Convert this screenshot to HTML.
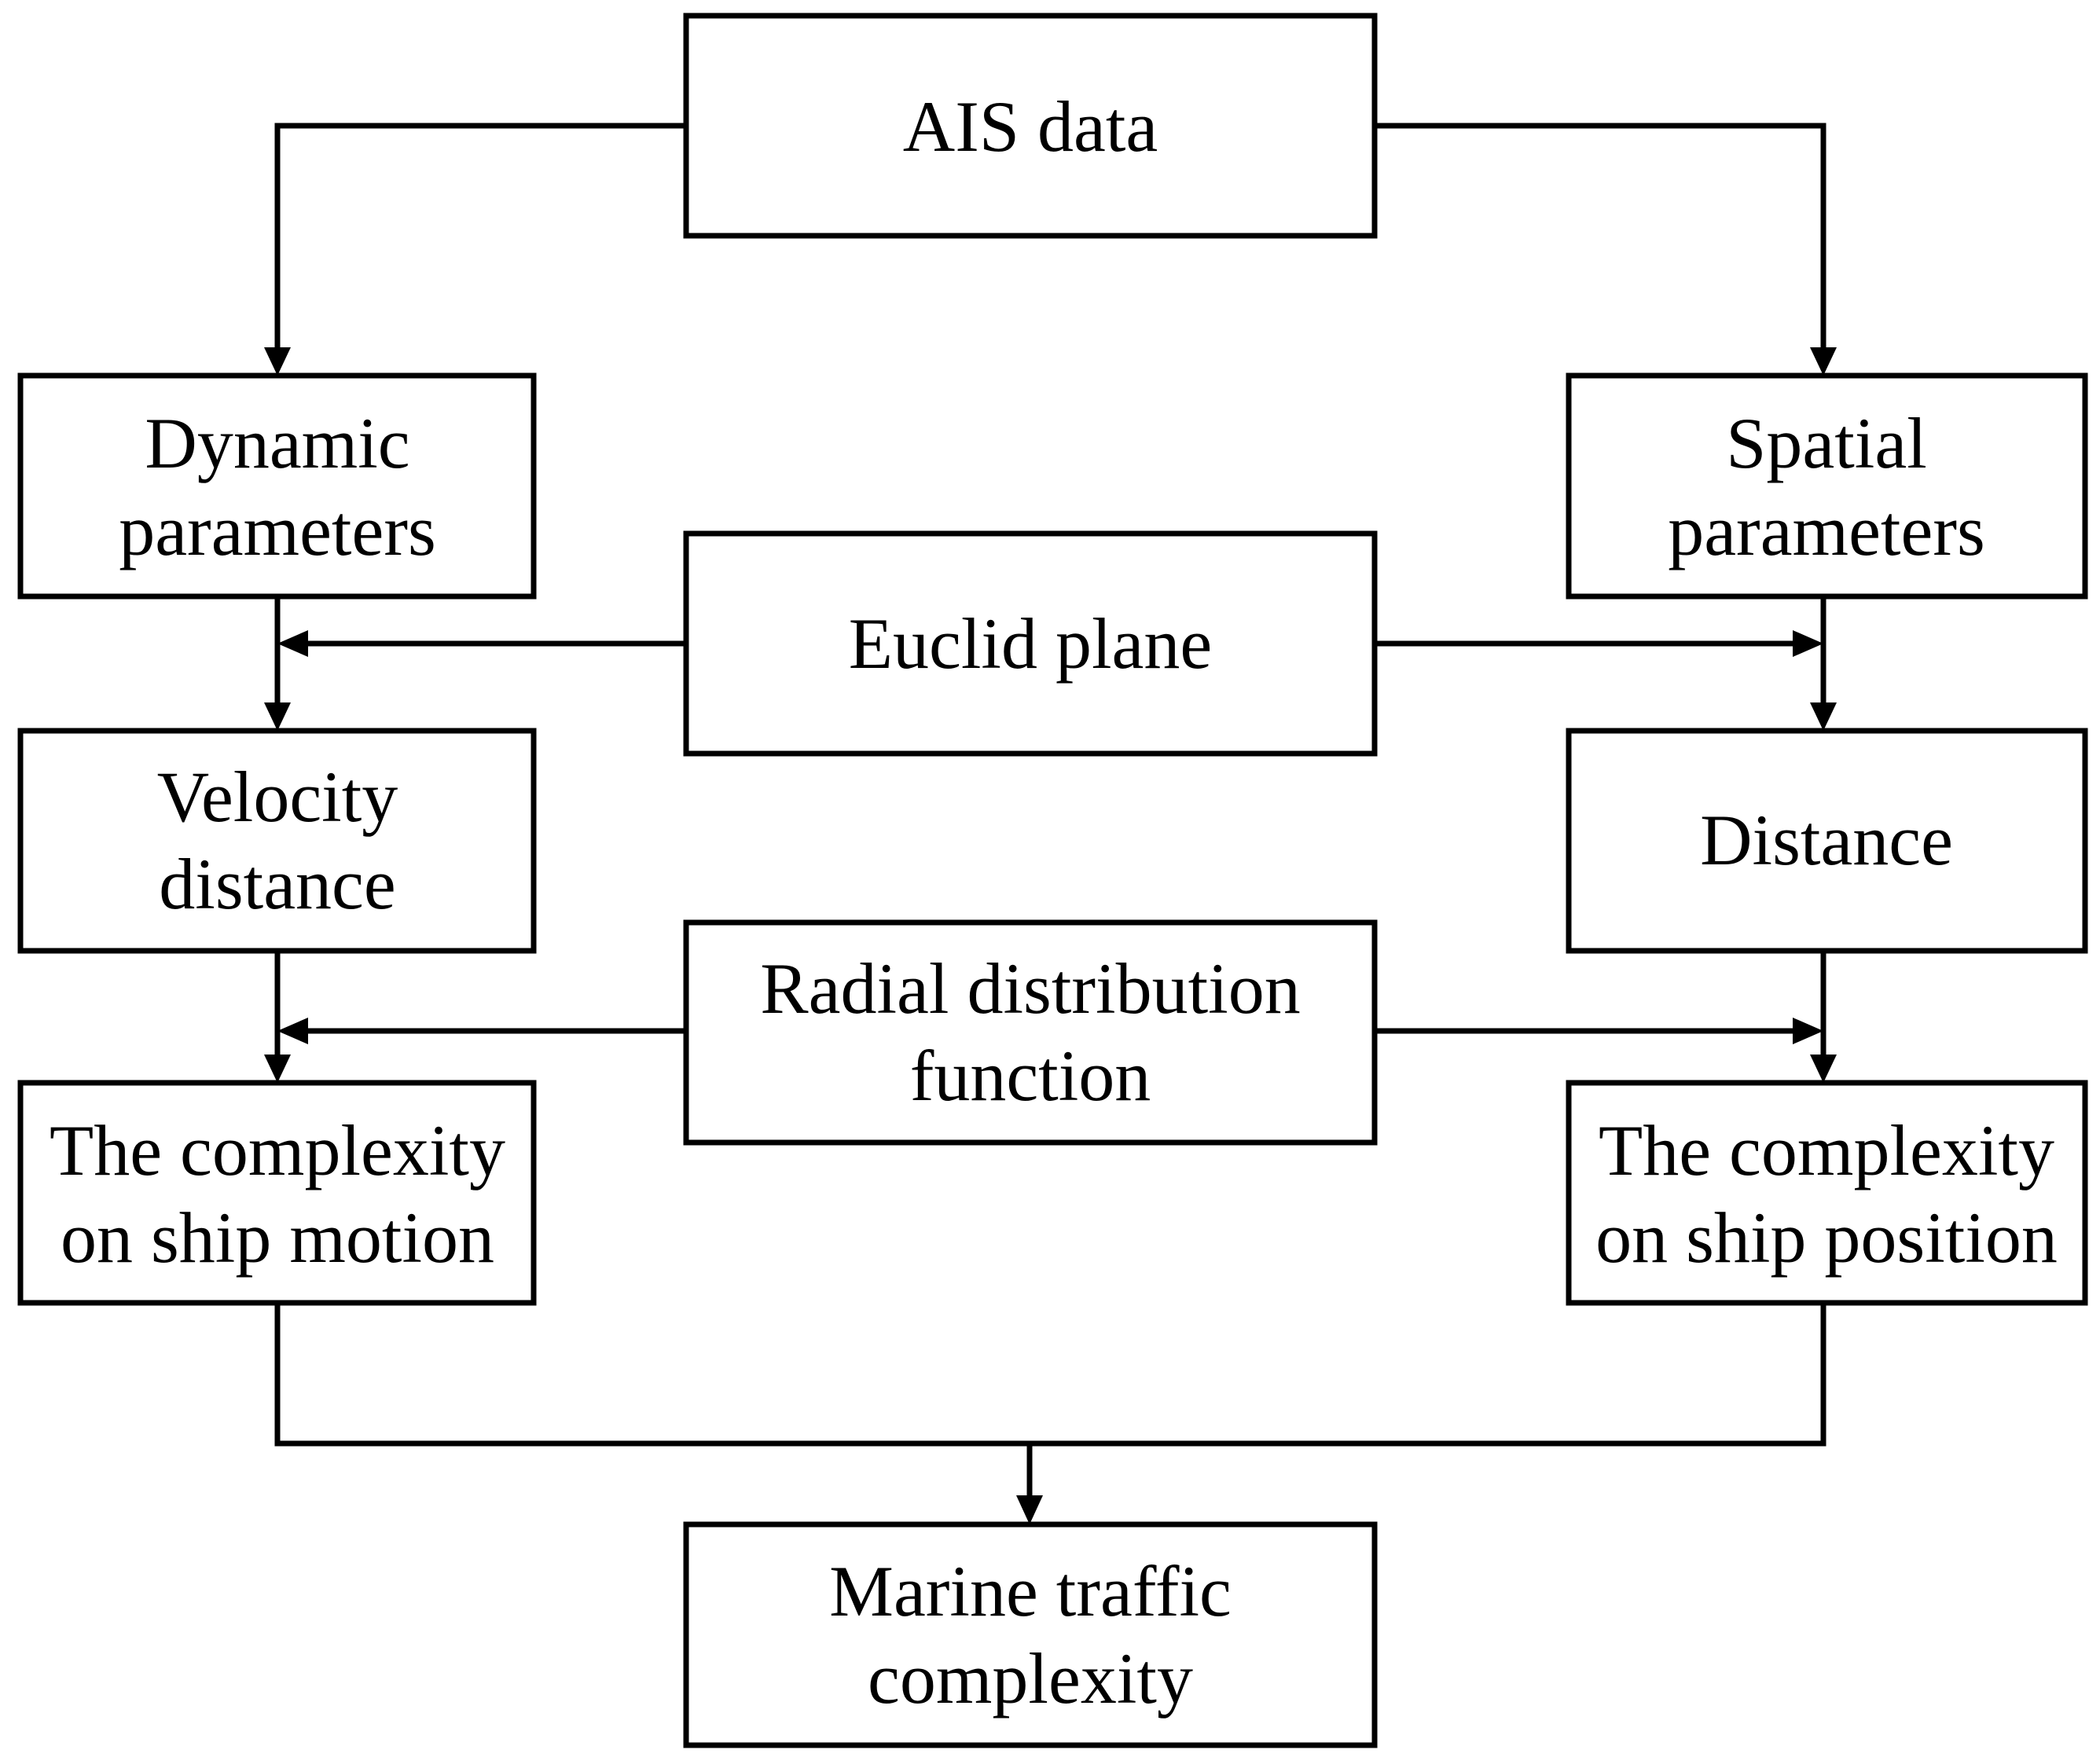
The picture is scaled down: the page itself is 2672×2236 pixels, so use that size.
<!DOCTYPE html>
<html><head><style>
html,body{margin:0;padding:0;background:#fff;}
svg{display:block;}
text{font-family:"Liberation Serif",serif;font-size:92px;fill:#000;text-anchor:middle;}
</style></head><body>
<svg width="2672" height="2236" viewBox="0 0 2672 2236" xmlns="http://www.w3.org/2000/svg">
<g fill="none" stroke="#000" stroke-width="7">
<rect x="873" y="20" width="876" height="280"/>
<rect x="26" y="478" width="653" height="281"/>
<rect x="1996" y="478" width="657" height="281"/>
<rect x="873" y="679" width="876" height="280"/>
<rect x="26" y="930" width="653" height="280"/>
<rect x="1996" y="930" width="657" height="280"/>
<rect x="873" y="1174" width="876" height="280"/>
<rect x="26" y="1378" width="653" height="280"/>
<rect x="1996" y="1378" width="657" height="280"/>
<rect x="873" y="1940" width="876" height="281"/>
<polyline points="873,160 353,160 353,445"/>
<polyline points="1749,160 2320,160 2320,445"/>
<line x1="353" y1="759" x2="353" y2="897"/>
<line x1="2320" y1="759" x2="2320" y2="897"/>
<line x1="873" y1="819" x2="390" y2="819"/>
<line x1="1749" y1="819" x2="2285" y2="819"/>
<line x1="353" y1="1210" x2="353" y2="1345"/>
<line x1="2320" y1="1210" x2="2320" y2="1345"/>
<line x1="873" y1="1312" x2="390" y2="1312"/>
<line x1="1749" y1="1312" x2="2285" y2="1312"/>
<polyline points="353,1658 353,1837 2320,1837 2320,1658"/>
<line x1="1310" y1="1837" x2="1310" y2="1905"/>
</g>
<g fill="#000">
<polygon points="336,442 370,442 353,478"/>
<polygon points="2303,442 2337,442 2320,478"/>
<polygon points="336,894 370,894 353,930"/>
<polygon points="2303,894 2337,894 2320,930"/>
<polygon points="353,819 392,802 392,836"/>
<polygon points="2320,819 2281,802 2281,836"/>
<polygon points="336,1342 370,1342 353,1378"/>
<polygon points="2303,1342 2337,1342 2320,1378"/>
<polygon points="353,1312 392,1295 392,1329"/>
<polygon points="2320,1312 2281,1295 2281,1329"/>
<polygon points="1293,1903 1327,1903 1310,1940"/>
</g>
<text x="1311" y="192">AIS data</text>
<text x="353" y="595">Dynamic</text>
<text x="353" y="706">parameters</text>
<text x="2324" y="595">Spatial</text>
<text x="2324" y="706">parameters</text>
<text x="1311" y="850">Euclid plane</text>
<text x="353" y="1045">Velocity</text>
<text x="353" y="1156">distance</text>
<text x="2324" y="1100">Distance</text>
<text x="1311" y="1289">Radial distribution</text>
<text x="1311" y="1400">function</text>
<text x="353" y="1495">The complexity</text>
<text x="353" y="1606">on ship motion</text>
<text x="2324" y="1495">The complexity</text>
<text x="2324" y="1606">on ship position</text>
<text x="1311" y="2056">Marine traffic</text>
<text x="1311" y="2167">complexity</text>
</svg>
</body></html>
